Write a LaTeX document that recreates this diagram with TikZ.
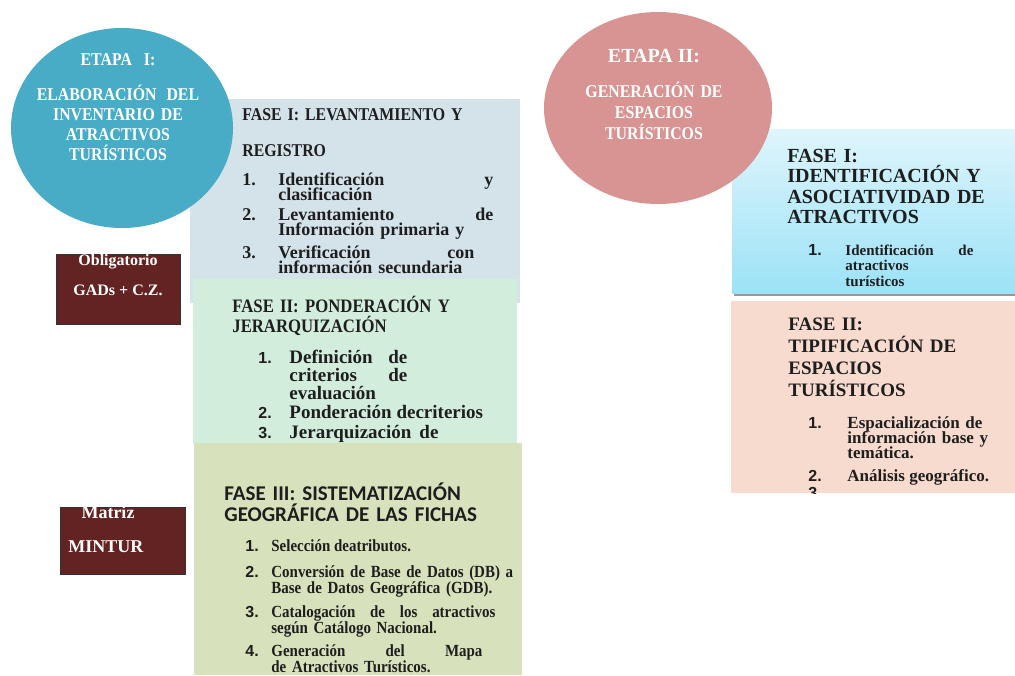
\documentclass[tikz,border=0pt]{standalone}
\usepackage{fontspec}
\setmainfont{Liberation Serif}
\newfontfamily\capsfont[FakeStretch=0.88]{Liberation Serif}
\newfontfamily\fasefont{Carlito}
\newfontfamily\numfont{Liberation Sans}
\newcommand\apretar[2]{\fontsize{#1}{#2}\selectfont\lineskiplimit=-20pt}
\definecolor{etapauno}{RGB}{72,172,198}
\definecolor{etapados}{RGB}{216,147,147}
\definecolor{faseuno}{RGB}{212,226,234}
\definecolor{fasedos}{RGB}{210,237,220}
\definecolor{fasetres}{RGB}{215,226,188}
\definecolor{cielo}{RGB}{222,245,252}
\definecolor{cielob}{RGB}{156,226,246}
\definecolor{salmon}{RGB}{248,219,207}
\definecolor{vino}{RGB}{99,35,34}
\definecolor{tinta}{RGB}{30,30,30}
\tikzset{
  linea/.style={anchor=base west, inner sep=0pt, align=left, text=tinta},
  num/.style={anchor=base west, inner sep=0pt, text=tinta, font=\numfont\bfseries\apretar{8}{8}},
  blanco/.style={anchor=base, inner sep=0pt, align=center, text=white},
  caja/.style={draw=black!80, line width=0.5pt, fill=vino}
}
\begin{document}
\begin{tikzpicture}[x=0.5pt,y=-0.5pt]
  \useasboundingbox (0,0) rectangle (1015,675);

  \fill[faseuno] (190,99) rectangle (520,303);
  \node[linea, text width=150pt, font=\capsfont\bfseries\apretar{9}{18}] (f1t) at (242,120) {FASE I: LEVANTAMIENTO Y\\REGISTRO};
  \node[linea, font=\bfseries\apretar{9}{9}] (f1n1) at (242,185) {1.};
  \node[linea, font=\bfseries\apretar{9}{9}] (f1n2) at (242,220) {2.};
  \node[linea, font=\bfseries\apretar{9}{9}] (f1n3) at (242,258) {3.};
  \node[linea, text width=107.5pt, font=\bfseries\apretar{9}{7.5}] (f1i1) at (278,185) {Identificación\hfill y\\clasificación};
  \node[linea, text width=107.5pt, font=\bfseries\apretar{9}{7.5}] (f1i2) at (278,220) {Levantamiento\hfill de\\Información primaria y};
  \node[linea, text width=98pt, font=\bfseries\apretar{9}{7.5}] (f1i3) at (278,258) {Verificación\hfill con\\información secundaria};

  \fill[fasedos] (193,279) rectangle (517,443);
  \node[linea, text width=150pt, font=\capsfont\bfseries\apretar{9.5}{10}] (f2t) at (232,312) {FASE II: PONDERACIÓN Y\\JERARQUIZACIÓN};
  \node[num] (f2n1) at (258,363) {1.};
  \node[num] (f2n2) at (258,418) {2.};
  \node[num] (f2n3) at (258,438) {3.};
  \node[linea, text width=59pt, font=\bfseries\apretar{9.5}{9}] (f2i1) at (289,363) {Definición\hfill de\\criterios\hfill de\\evaluación};
  \node[linea, font=\bfseries\apretar{9.5}{9}] (f2i2) at (289,418) {Ponderación decriterios};
  \node[linea, font=\bfseries\apretar{9.5}{9}] (f2i3) at (289,438) {Jerarquización\hspace{4pt}de};

  \fill[fasetres] (194,443) rectangle (522,675);
  \node[linea, text width=160pt, font=\fasefont\bfseries\apretar{10.5}{10.5}] (f3t) at (224,500) {FASE III: SISTEMATIZACIÓN\\GEOGRÁFICA DE LAS FICHAS};
  \node[num] (f3n1) at (245,551) {1.};
  \node[num] (f3n2) at (245,577) {2.};
  \node[num] (f3n3) at (245,617) {3.};
  \node[num] (f3n4) at (245,656) {4.};
  \node[linea, font=\capsfont\bfseries\apretar{8.5}{8}] (f3i1) at (271,551) {Selección deatributos.};
  \node[linea, text width=140pt, font=\capsfont\bfseries\apretar{8.5}{8}] (f3i2) at (271,577) {Conversión de Base de Datos (DB) a\\Base de Datos Geográfica (GDB).};
  \node[linea, text width=112pt, font=\capsfont\bfseries\apretar{8.5}{8}] (f3i3) at (271,617) {Catalogación\hfill de\hfill los\hfill atractivos\\según Catálogo Nacional.};
  \node[linea, text width=105.5pt, font=\capsfont\bfseries\apretar{8.5}{8}] (f3i4) at (271,656) {Generación\hfill del\hfill Mapa\\de Atractivos Turísticos.};

  \fill[etapauno] (122,128) ellipse [x radius=55.5pt, y radius=50pt];
  \node[blanco, font=\capsfont\bfseries\apretar{9}{9}] (e1t) at (118,65) {ETAPA\hspace{6pt}I:};
  \node[blanco, text width=110pt, font=\capsfont\bfseries\apretar{9}{10}] (e1) at (118,100) {ELABORACIÓN\hspace{5pt}DEL\\INVENTARIO DE\\ATRACTIVOS\\TURÍSTICOS};

  \draw[caja] (56,254) rectangle (180,324);
  \node[blanco, font=\bfseries\apretar{8}{8}] (obl) at (118,265) {Obligatorio};
  \node[blanco, font=\bfseries\apretar{8}{8}] (gad) at (118,295) {GADs + C.Z.};

  \draw[caja] (60,507) rectangle (185,574);
  \begin{scope}
    \clip (60,507) rectangle (185,574);
    \node[blanco, font=\bfseries\apretar{9}{9}] (mat) at (108,518) {Matriz};
    \node[blanco, anchor=base west, font=\bfseries\apretar{9}{9}] (min) at (68,552) {MINTUR};
  \end{scope}

  \fill[black!40] (734,132) rectangle (1015,296);
  \shade[top color=cielo, bottom color=cielob] (732,129) rectangle (1015,293);
  \node[linea, text width=120pt, font=\bfseries\apretar{10}{10.3}] (g1t) at (787,162) {FASE I:\\IDENTIFICACIÓN Y\\ASOCIATIVIDAD DE\\ATRACTIVOS};
  \node[num] (g1n1) at (808,255) {1.};
  \node[linea, text width=64pt, font=\bfseries\apretar{7.5}{7.75}] (g1i1) at (845,255) {Identificación\hfill de\\atractivos\\turísticos};

  \fill[salmon] (731,301) rectangle (1015,493);
  \begin{scope}
    \clip (731,301) rectangle (1015,493);
    \node[linea, text width=120pt, font=\bfseries\apretar{9.5}{11}] (g2t) at (788,330) {FASE II:\\TIPIFICACIÓN DE\\ESPACIOS\\TURÍSTICOS};
    \node[num] (g2n1) at (808,428) {1.};
    \node[num] (g2n2) at (808,481) {2.};
    \node[num] (g2n3) at (808,498) {3.};
    \node[linea, text width=75pt, font=\bfseries\apretar{8.5}{7.5}] (g2i1) at (847,428) {Espacialización de\\información base y\\temática.};
    \node[linea, font=\bfseries\apretar{8.5}{7.5}] (g2i2) at (847,481) {Análisis geográfico.};
  \end{scope}

  \fill[etapados] (658,108) ellipse [x radius=57pt, y radius=48pt];
  \node[blanco, font=\bfseries\apretar{10}{10}] (e2t) at (654,62) {ETAPA II:};
  \node[blanco, text width=110pt, font=\capsfont\bfseries\apretar{9}{10.5}] (e2) at (654,97) {GENERACIÓN DE\\ESPACIOS\\TURÍSTICOS};
\end{tikzpicture}
\end{document}
